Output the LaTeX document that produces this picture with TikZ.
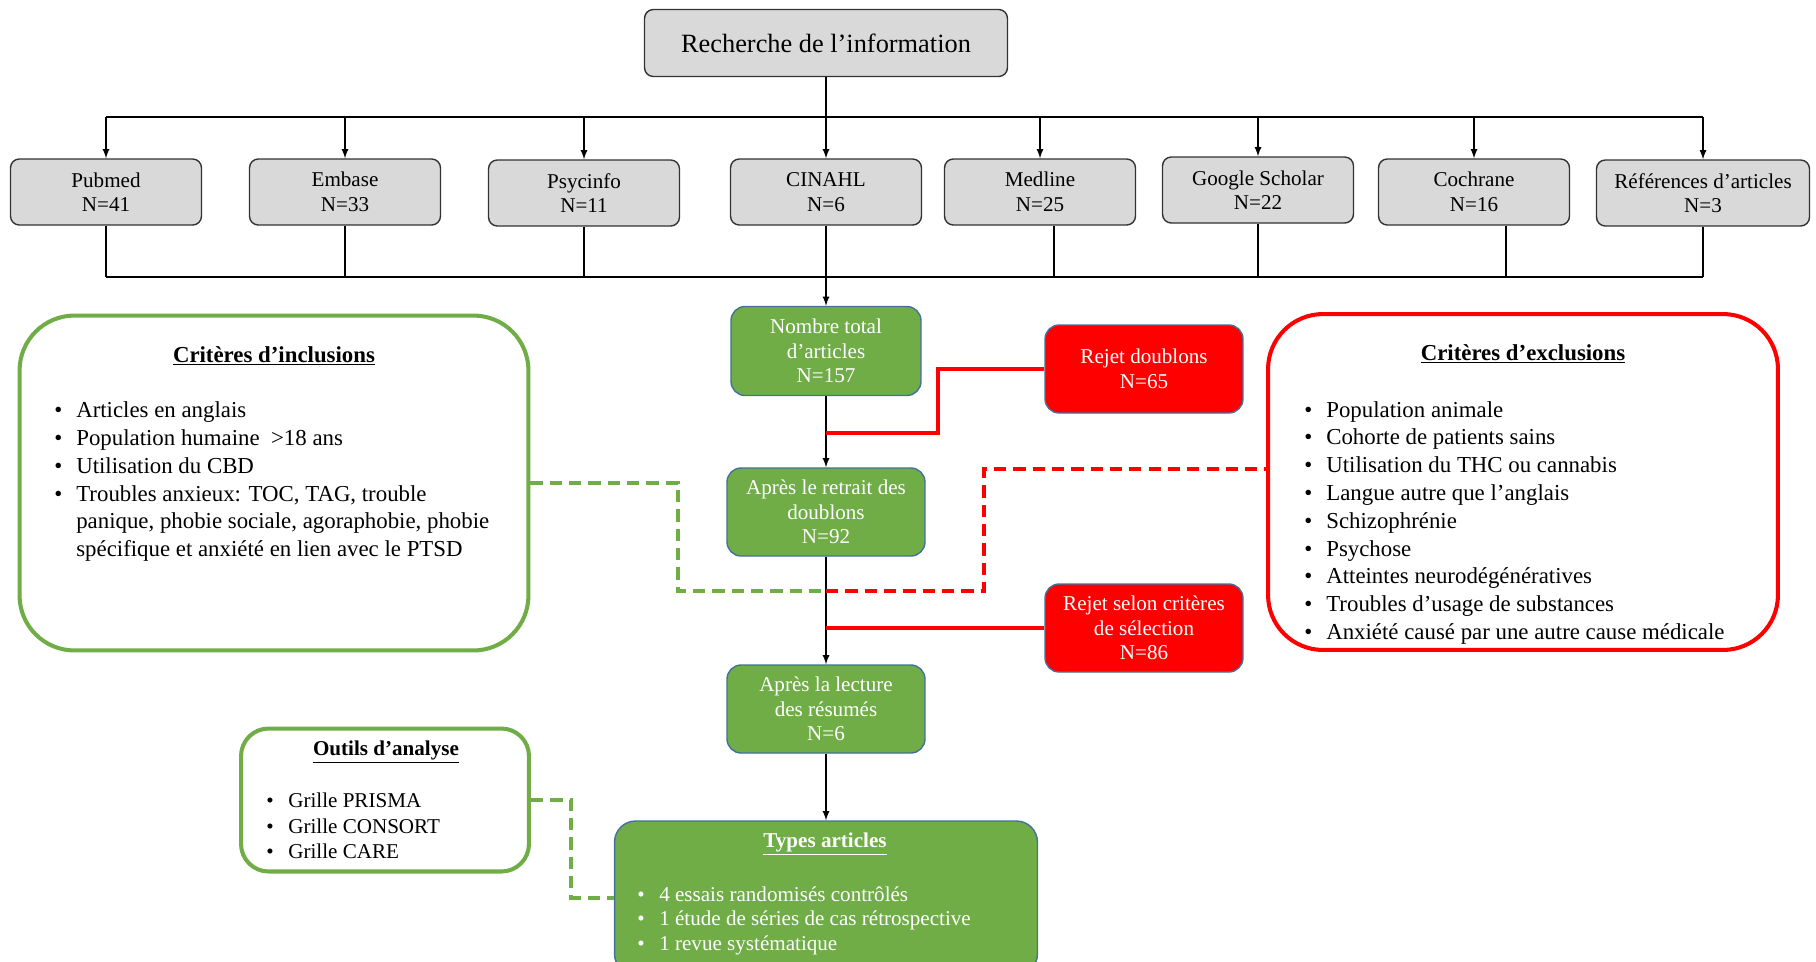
\documentclass[tikz,border=0pt]{standalone}
\usepackage{fontspec}
\setmainfont{Liberation Serif}
\usepackage{xcolor}
\usepackage{tikz}
\usetikzlibrary{arrows}
\usetikzlibrary{arrows.meta}
\usetikzlibrary{positioning}

\definecolor{boxgrey}{HTML}{D9D9D9}
\definecolor{stepgreen}{HTML}{70AD47}
\definecolor{edgeblue}{HTML}{41719C}
\definecolor{rejred}{HTML}{FF0000}

\tikzset{>=latex}
\tikzstyle{dbbox} = [rectangle, rounded corners=5pt, draw=black!80, thick, fill=boxgrey, align=center, minimum width=3.82cm, minimum height=1.32cm, inner sep=0, font=\fontsize{12}{14}\selectfont]
\tikzstyle{stepbox} = [rectangle, rounded corners=8pt, draw=edgeblue, thick, fill=stepgreen, text=white, align=center, minimum width=3.96cm, minimum height=1.76cm, inner sep=0, font=\fontsize{12}{14}\selectfont]
\tikzstyle{rejbox} = [stepbox, fill=rejred]
\tikzstyle{critbox} = [rectangle, draw, line width=2.3pt, fill=white, inner sep=0]
\tikzstyle{lien} = [-, draw=black, line width=0.6pt]
\tikzstyle{fleche} = [-latex, draw=black, line width=0.8pt]
\tikzstyle{rejlien} = [-, draw=rejred, line width=2.1pt]
\tikzstyle{incllien} = [-, draw=stepgreen, line width=1.8pt, dash pattern=on 7pt off 4pt]
\tikzstyle{excllien} = [incllien, draw=rejred]
\tikzstyle{liste} = [align=left, anchor=north west, inner sep=0, font=\fontsize{13}{15.9}\selectfont]
\tikzstyle{titre} = [inner sep=0, font=\fontsize{13}{16}\selectfont\bfseries]

\newcommand{\puce}{\makebox[12.5pt][l]{\textbullet}}
\newcommand{\suite}{\makebox[12.5pt][l]{}}

\begin{document}
\begin{tikzpicture}[x=0.02cm, y=-0.02cm]
\path [use as bounding box, fill=white] (0,0) rectangle (1816,961);

% recherche et bases
\node [dbbox, minimum width=7.26cm, minimum height=1.34cm, font=\fontsize{15}{18}\selectfont] (rech) at (826,43) {Recherche de l’information};
\node [dbbox] (pub) at (106,192) {Pubmed\\N=41};
\node [dbbox] (emb) at (345,192) {Embase\\N=33};
\node [dbbox] (psy) at (584,193) {Psycinfo\\N=11};
\node [dbbox] (cin) at (826,192) {CINAHL\\N=6};
\node [dbbox] (med) at (1040,192) {Medline\\N=25};
\node [dbbox] (goo) at (1258,190) {Google Scholar\\N=22};
\node [dbbox] (coc) at (1474,192) {Cochrane\\N=16};
\node [dbbox, minimum width=4.26cm] (ref) at (1703,193) {Références d’articles\\N=3};

\coordinate (bushaut) at (826,117);
\coordinate (busbas) at (826,277);
\draw [lien] (rech.south) -- (bushaut);
\draw [lien] (pub.north |- bushaut) -- (ref.north |- bushaut);
\draw [fleche] (pub.north |- bushaut) -- (pub.north);
\draw [fleche] (emb.north |- bushaut) -- (emb.north);
\draw [fleche] (psy.north |- bushaut) -- (psy.north);
\draw [fleche] (cin.north |- bushaut) -- (cin.north);
\draw [fleche] (med.north |- bushaut) -- (med.north);
\draw [fleche] (goo.north |- bushaut) -- (goo.north);
\draw [fleche] (coc.north |- bushaut) -- (coc.north);
\draw [fleche] (ref.north |- bushaut) -- (ref.north);
\draw [lien] (pub.south |- busbas) -- (ref.south |- busbas);
\draw [lien] (pub.south) -- (pub.south |- busbas);
\draw [lien] (emb.south) -- (emb.south |- busbas);
\draw [lien] (psy.south) -- (psy.south |- busbas);
\draw [lien] ([xshift=0.28cm]med.south) -- ([xshift=0.28cm]med.south |- busbas);
\draw [lien] (goo.south) -- (goo.south |- busbas);
\draw [lien] ([xshift=0.64cm]coc.south) -- ([xshift=0.64cm]coc.south |- busbas);
\draw [lien] (ref.south) -- (ref.south |- busbas);

% etapes
\node [stepbox, minimum width=3.8cm, minimum height=1.78cm] (tot) at (826,351) {Nombre total\\d’articles\\N=157};
\node [stepbox] (ret) at (826,512) {Après le retrait des\\doublons\\N=92};
\node [stepbox] (lec) at (826,709) {Après la lecture\\des résumés\\N=6};
\node [stepbox, minimum width=8.46cm, minimum height=3.08cm, rounded corners=12pt] (types) at (826,898) {};
\node [titre, font=\fontsize{12}{14}\selectfont\bfseries, text=white] (typestitre) at (825,844) {\underline{Types articles}};
\node [liste, text=white, font=\fontsize{12}{14.2}\selectfont] (typesliste) at (637,886) {\puce 4 essais randomisés contrôlés\\ \puce 1 étude de séries de cas rétrospective\\ \puce 1 revue systématique};

\node [rejbox] (rejd) at (1144,369) {Rejet doublons\\N=65};
\node [rejbox] (rejs) at (1144,628) {Rejet selon critères\\de sélection\\N=86};

\draw [fleche] (cin.south) -- (tot.north);
\draw [fleche] (tot.south) -- (ret.north);
\draw [fleche] (ret.south) -- (lec.north);
\draw [fleche] (lec.south) -- (types.north);

% criteres
\node [critbox, draw=stepgreen, minimum width=10.18cm, minimum height=6.7cm, rounded corners=1.1cm] (incl) at (274,483) {};
\node [titre] (incltitre) at (274,356) {\underline{Critères d’inclusions}};
\node [liste] (incliste) at (54,401) {\puce Articles en anglais\\ \puce Population humaine\ \ >18 ans\\ \puce Utilisation du CBD\\ \puce Troubles anxieux: TOC, TAG, trouble\\ \suite panique, phobie sociale, agoraphobie, phobie\\ \suite spécifique et anxiété en lien avec le PTSD};

\node [critbox, draw=rejred, minimum width=10.2cm, minimum height=6.72cm, rounded corners=1.1cm] (excl) at (1523,482) {};
\node [titre] (excltitre) at (1523,354) {\underline{Critères d’exclusions}};
\node [liste, font=\fontsize{13}{15.8}\selectfont] (exclliste) at (1304,401) {\puce Population animale\\ \puce Cohorte de patients sains\\ \puce Utilisation du THC ou cannabis\\ \puce Langue autre que l’anglais\\ \puce Schizophrénie\\ \puce Psychose\\ \puce Atteintes neurodégénératives\\ \puce Troubles d’usage de substances\\ \puce Anxiété causé par une autre cause médicale};

\node [critbox, draw=stepgreen, minimum width=5.76cm, minimum height=2.86cm, rounded corners=0.55cm] (outils) at (385,800) {};
\node [titre, font=\fontsize{12}{14}\selectfont\bfseries] (outilstitre) at (386,752) {\underline{Outils d’analyse}};
\node [liste, font=\fontsize{12}{14.5}\selectfont] (outilsliste) at (266,793) {\puce Grille PRISMA\\ \puce Grille CONSORT\\ \puce Grille CARE};

% liens de rejet
\coordinate (j1) at (826,433);
\coordinate (j2) at (826,591);
\coordinate (j3) at (1268,469);
\draw [rejlien] (rejd.west) -| (938,433) -- (j1);
\draw [rejlien] (rejs.west) -- (rejs.west -| ret.south);
\draw [incllien] (incl.east) -| (678,591) -- (j2);
\draw [excllien] (j2) -| (984,469) -- (j3);
\draw [incllien] (outils.east) -| (571,898) -- (types.west);
\end{tikzpicture}
\end{document}
